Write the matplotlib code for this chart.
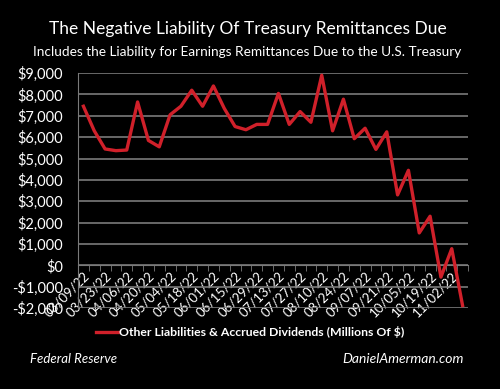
import numpy as np
import matplotlib.pyplot as plt

dates = ['03/09/22', '03/16/22', '03/23/22', '03/30/22', '04/06/22', '04/13/22',
         '04/20/22', '04/27/22', '05/04/22', '05/11/22', '05/18/22', '05/25/22',
         '06/01/22', '06/08/22', '06/15/22', '06/22/22', '06/29/22', '07/06/22',
         '07/13/22', '07/20/22', '07/27/22', '08/03/22', '08/10/22', '08/17/22',
         '08/24/22', '08/31/22', '09/07/22', '09/14/22', '09/21/22', '09/28/22',
         '10/05/22', '10/12/22', '10/19/22', '10/26/22', '11/02/22', '11/09/22']
values = [7450, 6300, 5450, 5370, 5400, 7650, 5850, 5550, 7050, 7450, 8200, 7450,
          8400, 7350, 6500, 6350, 6600, 6600, 8050, 6600, 7200, 6700, 8900, 6300,
          7780, 5930, 6420, 5430, 6250, 3300, 4450, 1520, 2300, -550, 780, -1880]
y_ticks = [-2000, -1000, 0, 1000, 2000, 3000, 4000, 5000, 6000, 7000, 8000, 9000]

plt.rcParams['font.family'] = ['Lato', 'DejaVu Sans']

fig = plt.figure(figsize=(5, 3.89), dpi=100, facecolor='black')
ax = fig.add_axes([0.156, 0.208, 0.78, 0.604])
ax.set_facecolor('black')

x = np.arange(len(values))
ax.plot(x, values, color='#d0202a', lw=2.4, zorder=3,
        label='Other Liabilities & Accrued Dividends (Millions Of $)')

ax.set_xlim(-0.5, len(values) - 0.5)
ax.set_ylim(-2000, 9000)
ax.set_yticks(y_ticks)
ax.set_yticklabels([('-$' if v < 0 else '$') + f'{abs(v):,}' for v in y_ticks])
ax.grid(axis='y', color='#7a7a7a', lw=1.2)
ax.set_axisbelow(True)

for s in ['top', 'right']:
    ax.spines[s].set_visible(False)
ax.spines['left'].set_color('#7a7a7a')
ax.spines['bottom'].set_color('#7a7a7a')
ax.spines['bottom'].set_position(('data', 0))

ax.set_xticks(x[::2])
ax.set_xticklabels(dates[::2], rotation=45, ha='right', rotation_mode='anchor',
                   color='white', fontsize=9.5)
ax.set_xticks(np.arange(len(values) + 1) - 0.5, minor=True)
ax.tick_params(axis='x', which='major', length=0, pad=3)
ax.tick_params(axis='x', which='minor', length=4, color='#7a7a7a', direction='out')
ax.tick_params(axis='y', length=0, pad=11, labelcolor='white', labelsize=10.5)

fig.text(0.495, 0.925, 'The Negative Liability Of Treasury Remittances Due',
         color='white', fontsize=12.5, ha='center', va='center')
fig.text(0.495, 0.866, 'Includes the Liability for Earnings Remittances Due to the U.S. Treasury',
         color='white', fontsize=9.8, ha='center', va='center')

leg = fig.legend(loc='center', bbox_to_anchor=(0.5, 0.147), frameon=False,
                 handlelength=1.8, handletextpad=0.1,
                 prop={'weight': 'bold', 'size': 8.8})
for t in leg.get_texts():
    t.set_color('white')

fig.text(0.06, 0.077, 'Federal Reserve', color='white', fontsize=9.5,
         style='italic', ha='left', va='center')
fig.text(0.928, 0.077, 'DanielAmerman.com', color='white', fontsize=10,
         style='italic', ha='right', va='center')

fig.savefig('out.png', dpi=100, facecolor='black')
